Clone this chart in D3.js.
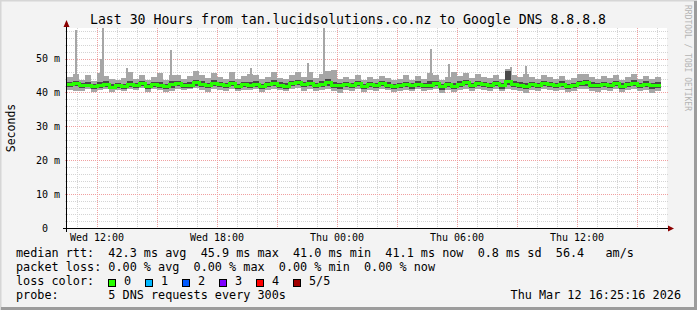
<!DOCTYPE html>
<html>
<head>
<meta charset="utf-8">
<script src="https://cdn.jsdelivr.net/npm/d3@7"></script>
<style>
body { margin: 0; background: #f3f3f3; }
svg { display: block; }
text { font-family: "DejaVu Sans Mono", monospace; white-space: pre; fill: #000; }
</style>
</head>
<body>
<div id="chart"></div>
<script>
// Chart data
const titleText = "Last 30 Hours from tan.lucidsolutions.co.nz to Google DNS 8.8.8.8";
const startTime = new Date(2026, 2, 11, 10, 30);
const endTime = new Date(2026, 2, 12, 16, 30);
const stepMinutes = 18;

// median rtt per step (ms)
const median = [
  42.3, 42.6, 41.9, 42.1, 41.8, 41.9, 42.4, 41.5, 42.0, 41.7,
  42.2, 41.9, 42.5, 41.8, 42.3, 42.0, 41.6, 42.2, 42.6, 41.9,
  42.1, 42.8, 42.4, 41.9, 42.7, 42.2, 42.0, 42.5, 41.8, 42.3,
  42.0, 42.4, 41.7, 42.2, 42.6, 42.1, 41.8, 42.5, 42.9, 42.2,
  42.7, 42.0, 42.4, 42.8, 42.1, 41.9, 42.3, 42.0, 42.6, 41.8,
  42.2, 41.9, 42.5, 42.1, 41.7, 42.0, 42.3, 41.9, 42.4, 42.0,
  42.1, 42.5, 41.6, 42.2, 41.8, 42.4, 42.9, 42.0, 42.6, 42.2,
  42.0, 42.5, 41.9, 43.1, 42.4, 42.1, 41.8, 42.3, 42.0, 42.5,
  42.2, 41.9, 42.4, 41.7, 42.0, 42.6, 42.8, 42.1, 41.9, 42.3,
  42.0, 42.5, 41.8, 42.2, 42.7, 42.0, 42.4, 41.9, 42.1
];
// smoke: lowest ping
const ping1 = [
  40.8, 40.4, 40.5, 40.9, 40.2, 40.6, 41.1, 40.0, 40.7, 40.4,
  41.0, 40.6, 41.2, 40.1, 40.9, 40.7, 40.2, 40.5, 41.0, 40.6,
  40.9, 41.3, 40.8, 40.0, 41.1, 40.7, 40.5, 41.0, 40.3, 40.8,
  40.6, 41.0, 40.2, 40.7, 41.1, 40.6, 40.3, 40.9, 41.2, 40.5,
  41.0, 40.4, 40.8, 41.1, 40.3, 39.8, 40.7, 40.5, 41.0, 40.2,
  40.7, 40.4, 40.9, 40.6, 40.0, 40.5, 40.8, 40.3, 40.9, 40.5,
  40.6, 40.9, 39.7, 40.7, 40.2, 40.8, 41.0, 40.4, 41.0, 40.6,
  40.5, 40.9, 40.3, 41.1, 40.8, 40.5, 39.9, 40.7, 40.4, 40.9,
  40.6, 40.3, 40.8, 40.1, 40.5, 41.0, 40.9, 40.5, 40.2, 40.7,
  40.4, 40.9, 40.2, 40.6, 41.0, 40.4, 40.8, 39.9, 40.5
];
// smoke: second ping
const ping2 = [
  41.6, 41.8, 41.2, 41.5, 41.0, 41.3, 41.6, 40.9, 41.4, 41.0,
  41.5, 41.2, 41.8, 41.1, 41.6, 41.3, 40.9, 41.4, 41.9, 41.2,
  41.4, 42.0, 41.6, 41.2, 42.0, 41.5, 41.3, 41.8, 41.0, 41.6,
  41.3, 41.7, 41.0, 41.5, 41.9, 41.4, 41.1, 41.8, 42.1, 41.5,
  42.0, 41.3, 41.7, 42.0, 41.4, 41.1, 41.6, 41.3, 41.9, 41.0,
  41.5, 41.2, 41.8, 41.4, 40.9, 41.3, 41.6, 41.1, 41.7, 41.3,
  41.4, 41.8, 40.8, 41.5, 41.0, 41.7, 42.1, 41.3, 41.9, 41.5,
  41.3, 41.8, 41.1, 42.2, 41.7, 41.4, 41.0, 41.6, 41.3, 41.8,
  41.5, 41.2, 41.7, 41.0, 41.3, 41.9, 42.0, 41.4, 41.2, 41.6,
  41.3, 41.8, 41.1, 41.5, 42.0, 41.3, 41.7, 41.1, 41.4
];
// smoke: fourth ping
const ping4 = [
  43.0, 43.4, 42.7, 43.0, 42.6, 43.1, 43.5, 42.4, 42.9, 42.6,
  43.3, 42.8, 43.4, 42.6, 43.2, 43.0, 42.5, 43.4, 43.5, 42.8,
  43.0, 43.7, 43.3, 42.8, 43.6, 43.1, 42.9, 43.4, 42.6, 43.2,
  43.1, 43.3, 42.6, 43.1, 43.6, 43.0, 42.7, 43.4, 43.8, 43.1,
  43.8, 42.9, 43.3, 44.0, 43.2, 42.8, 43.2, 42.9, 43.5, 42.6,
  43.1, 42.8, 43.4, 43.0, 42.5, 42.9, 43.2, 42.7, 43.3, 42.9,
  43.4, 43.4, 42.5, 43.1, 42.9, 43.3, 43.8, 42.9, 43.5, 43.1,
  42.9, 43.4, 42.8, 46.2, 43.3, 43.0, 42.9, 43.2, 42.9, 43.4,
  43.1, 42.8, 43.3, 42.6, 42.9, 43.5, 43.7, 43.0, 42.8, 43.2,
  42.9, 43.4, 42.7, 43.1, 43.6, 42.9, 43.3, 42.8, 43.0
];
// smoke: highest ping
const ping5 = [
  44.6, 45.3, 43.8, 45.0, 43.5, 45.8, 44.9, 44.0, 43.6, 44.3,
  45.9, 44.0, 45.1, 43.8, 44.5, 45.6, 43.6, 45.2, 45.2, 44.1,
  44.8, 46.2, 45.0, 44.2, 45.7, 44.6, 44.1, 46.0, 43.9, 44.7,
  45.3, 45.0, 44.0, 44.6, 45.9, 44.3, 44.0, 45.1, 46.1, 44.5,
  46.0, 44.2, 45.5, 46.4, 46.5, 44.0, 44.6, 44.1, 45.0, 43.8,
  44.5, 43.9, 44.8, 44.2, 43.7, 44.0, 45.2, 43.8, 44.9, 44.1,
  45.8, 45.0, 43.6, 44.4, 45.9, 44.8, 45.6, 44.3, 45.3, 44.5,
  44.2, 45.2, 44.0, 46.8, 45.0, 44.4, 45.5, 44.6, 44.1, 45.0,
  44.4, 43.9, 44.8, 43.7, 44.2, 45.3, 45.5, 44.5, 44.0, 44.7,
  44.2, 45.0, 43.8, 44.5, 45.3, 44.1, 44.9, 44.0, 44.6
];

// single-probe outliers (time, max rtt ms)
const spikeTimes = [
  new Date(2026, 2, 11, 10, 54), new Date(2026, 2, 11, 12, 9), new Date(2026, 2, 11, 12, 15),
  new Date(2026, 2, 11, 13, 27), new Date(2026, 2, 11, 15, 39), new Date(2026, 2, 11, 19, 39),
  new Date(2026, 2, 11, 22, 30), new Date(2026, 2, 11, 23, 18), new Date(2026, 2, 12, 4, 39),
  new Date(2026, 2, 12, 5, 33), new Date(2026, 2, 12, 8, 39), new Date(2026, 2, 12, 9, 24)
];
const spikeValues = [58.5, 49.8, 59.5, 47.2, 52.5, 47.2, 48.8, 59.5, 52.8, 48.5, 47.6, 47.9];

const yTicks = [0, 10, 20, 30, 40, 50];
const xLabelTimes = [
  new Date(2026, 2, 11, 12), new Date(2026, 2, 11, 18),
  new Date(2026, 2, 12, 0), new Date(2026, 2, 12, 6), new Date(2026, 2, 12, 12)
];
const legendLines = [
  "median rtt:  42.3 ms avg  45.9 ms max  41.0 ms min  41.1 ms now  0.8 ms sd  56.4   am/s",
  "packet loss: 0.00 % avg  0.00 % max  0.00 % min  0.00 % now",
  "loss color:",
  "probe:       5 DNS requests every 300s"
];
const lossLabels = ["0", "1", "2", "3", "4", "5/5"];
const lossColors = ["#26ff00", "#00b8ff", "#0059ff", "#7e00ff", "#ff0000", "#a10000"];
const stampText = "Thu Mar 12 16:25:16 2026";

// Layout
const W = 697, H = 310;
const plot = { left: 67, right: 667, top: 28, bottom: 228 };

const svg = d3.select("#chart").append("svg")
  .attr("width", W).attr("height", H);

// background + 3d frame
svg.append("rect").attr("width", W).attr("height", H).attr("fill", "#f3f3f3");
svg.append("path").attr("d", `M0.5,${H}V0.5H${W}`).attr("fill", "none")
  .attr("stroke", "#d6d6d6").attr("stroke-width", 2);
svg.append("path").attr("d", `M1,${H - 1.5}H${W - 1.5}V1`).attr("fill", "none")
  .attr("stroke", "#9c9c9c").attr("stroke-width", 3);

svg.append("rect")
  .attr("x", plot.left).attr("y", plot.top)
  .attr("width", plot.right - plot.left).attr("height", plot.bottom - plot.top)
  .attr("fill", "#fff");

const x = d3.scaleTime().domain([startTime, endTime]).range([plot.left, plot.right]);
const y = d3.scaleLinear().domain([0, 59.0]).range([plot.bottom, plot.top]);

const times = median.map((d, i) => d3.timeMinute.offset(startTime, i * stepMinutes));

// grid
const grid = svg.append("g").attr("shape-rendering", "crispEdges");
const minorY = d3.range(0, 59, 2).filter(v => v % 10 !== 0);
grid.selectAll(".ym").data(minorY).enter().append("line")
  .attr("x1", plot.left - 2).attr("x2", plot.right + 2)
  .attr("y1", d => Math.round(y(d)) + 0.5).attr("y2", d => Math.round(y(d)) + 0.5)
  .attr("stroke", "#d4d4d4").attr("stroke-dasharray", "1,1");
const minorX = d3.timeHour.range(startTime, endTime).filter(t => t.getHours() % 3 !== 0);
grid.selectAll(".xm").data(minorX).enter().append("line")
  .attr("y1", plot.top).attr("y2", plot.bottom + 2)
  .attr("x1", d => Math.round(x(d)) + 0.5).attr("x2", d => Math.round(x(d)) + 0.5)
  .attr("stroke", "#d4d4d4").attr("stroke-dasharray", "1,1");
grid.selectAll(".yM").data(yTicks.filter(v => v > 0)).enter().append("line")
  .attr("x1", plot.left - 2).attr("x2", plot.right + 2)
  .attr("y1", d => Math.round(y(d)) + 0.5).attr("y2", d => Math.round(y(d)) + 0.5)
  .attr("stroke", "#f0a0a0").attr("stroke-dasharray", "1,1");
const majorX = d3.timeHour.every(3).range(startTime, endTime);
grid.selectAll(".xM").data(majorX).enter().append("line")
  .attr("y1", plot.top).attr("y2", plot.bottom + 2)
  .attr("x1", d => Math.round(x(d)) + 0.5).attr("x2", d => Math.round(x(d)) + 0.5)
  .attr("stroke", "#f0a0a0").attr("stroke-dasharray", "1,1");

// smoke + median
svg.append("clipPath").attr("id", "clip").append("rect")
  .attr("x", plot.left).attr("y", plot.top)
  .attr("width", plot.right - plot.left).attr("height", plot.bottom - plot.top);
const data = svg.append("g").attr("clip-path", "url(#clip)").attr("shape-rendering", "crispEdges");

const stepW = i => x(d3.timeMinute.offset(times[i], stepMinutes)) - x(times[i]);

data.selectAll(".outer").data(times).enter().append("rect")
  .attr("x", d => x(d)).attr("width", (d, i) => stepW(i))
  .attr("y", (d, i) => y(ping5[i]))
  .attr("height", (d, i) => y(ping1[i]) - y(ping5[i]))
  .attr("fill", "#a6a6a6");

// outlier spikes, one probe column wide
data.selectAll(".spike").data(spikeTimes).enter().append("rect")
  .attr("x", d => x(d))
  .attr("width", d => x(d3.timeMinute.offset(d, 5)) - x(d))
  .attr("y", (d, i) => y(spikeValues[i]))
  .attr("height", (d, i) => y(44) - y(spikeValues[i]))
  .attr("fill", "#a6a6a6");

data.selectAll(".inner").data(times).enter().append("rect")
  .attr("x", d => x(d)).attr("width", (d, i) => stepW(i))
  .attr("y", (d, i) => y(ping4[i]))
  .attr("height", (d, i) => y(ping2[i]) - y(ping4[i]))
  .attr("fill", "#4a4a4a");

const medPts = median.map((v, i) => [times[i], v]);
medPts.push([d3.timeMinute.offset(times[times.length - 1], stepMinutes), median[median.length - 1]]);
data.append("path")
  .datum(medPts)
  .attr("fill", "none")
  .attr("stroke", lossColors[0])
  .attr("stroke-width", 3)
  .attr("d", d3.line().x(d => x(d[0])).y(d => y(d[1])).curve(d3.curveStepAfter));

// axes
svg.append("line").attr("x1", plot.left - 4).attr("x2", plot.right + 4)
  .attr("y1", plot.bottom + 0.5).attr("y2", plot.bottom + 0.5)
  .attr("stroke", "#000").attr("shape-rendering", "crispEdges");
svg.append("line").attr("x1", plot.left - 0.5).attr("x2", plot.left - 0.5)
  .attr("y1", plot.bottom + 4).attr("y2", plot.top - 4)
  .attr("stroke", "#000").attr("shape-rendering", "crispEdges");
svg.append("path")
  .attr("d", `M${plot.left - 3.5},${plot.top - 1}L${plot.left - 0.5},${plot.top - 8}L${plot.left + 2.5},${plot.top - 1}Z`)
  .attr("fill", "#8b0000");
svg.append("path")
  .attr("d", `M${plot.right + 1},${plot.bottom - 2.5}L${plot.right + 7},${plot.bottom + 0.5}L${plot.right + 1},${plot.bottom + 3.5}Z`)
  .attr("fill", "#8b0000");

// axis labels
svg.selectAll(".ylab").data(yTicks).enter().append("text")
  .attr("x", d => d === 0 ? 48 : 60)
  .attr("y", d => y(d) + 3.7)
  .attr("text-anchor", "end")
  .attr("font-size", 10)
  .text(d => d === 0 ? "0" : `${d} m`);

const fmt = d3.timeFormat("%a %H:%M");
svg.selectAll(".xlab").data(xLabelTimes).enter().append("text")
  .attr("x", d => x(d))
  .attr("y", 241)
  .attr("text-anchor", "middle")
  .attr("font-size", 10)
  .text(d => fmt(d));

svg.append("text")
  .attr("transform", "translate(14.5,128) rotate(-90)")
  .attr("text-anchor", "middle")
  .attr("font-size", 11.5)
  .text("Seconds");

svg.append("text")
  .attr("x", 348).attr("y", 24)
  .attr("text-anchor", "middle")
  .attr("font-size", 13.2)
  .text(titleText);

svg.append("text")
  .attr("transform", "translate(684.5,5) rotate(90)")
  .attr("font-size", 8)
  .style("fill", "#b4b4b4")
  .text("RRDTOOL / TOBI OETIKER");

// legend
svg.selectAll(".leg").data(legendLines).enter().append("text")
  .attr("x", 16)
  .attr("y", (d, i) => 257 + i * 14)
  .attr("font-size", 11.8)
  .text(d => d);

const lossItems = svg.selectAll(".loss").data(lossLabels).enter().append("g")
  .attr("transform", (d, i) => `translate(${108 + i * 37},279)`);
lossItems.append("rect")
  .attr("x", 0.5).attr("y", 0.5).attr("width", 7).attr("height", 7)
  .attr("fill", (d, i) => lossColors[i])
  .attr("stroke", "#000").attr("shape-rendering", "crispEdges");
lossItems.append("text")
  .attr("x", 16).attr("y", 6)
  .attr("font-size", 11.8)
  .text(d => d);

svg.append("text")
  .attr("x", 681).attr("y", 299)
  .attr("text-anchor", "end")
  .attr("font-size", 11.8)
  .text(stampText);
</script>
</body>
</html>
